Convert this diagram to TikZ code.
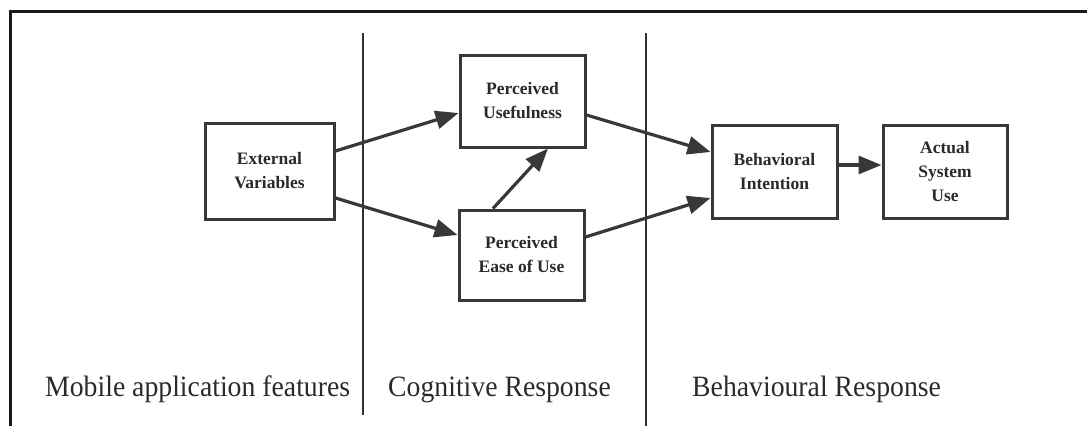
\documentclass[tikz,border=0pt]{standalone}
\usepackage{fontspec}
\setmainfont{Liberation Serif}
\usetikzlibrary{arrows.meta}
\definecolor{frameclr}{HTML}{1A1A1A}
\definecolor{boxclr}{HTML}{383838}
\definecolor{txtclr}{HTML}{2A2A2A}
\tikzset{
  box/.style={draw=boxclr, line width=3pt, fill=white, align=center, inner sep=0pt,
    font=\fontsize{17.5}{24}\selectfont\bfseries, text=txtclr},
  conn/.style={draw=boxclr, line width=3.2pt, -{Triangle[length=23pt,width=18pt]}},
  sep/.style={draw=frameclr!90, line width=2pt},
  lbl/.style={anchor=base west, inner sep=0pt, text=txtclr, font=\fontsize{29.5}{34}\selectfont}
}
\begin{document}
\begin{tikzpicture}[x=1pt,y=-1pt]
\useasboundingbox (0,0) rectangle (1087,426);
% outer frame
\draw[frameclr, line width=3pt] (10.3,426) -- (10.3,11.3) -- (1087,11.3);
% separators
\coordinate (s1t) at (363,33);
\coordinate (s1b) at (363,415);
\coordinate (s2t) at (646,33);
\coordinate (s2b) at (646,426);
\draw[sep] (s1t) -- (s1b);
\draw[sep] (s2t) -- (s2b);
% boxes
\node[box, minimum width=129pt, minimum height=96pt] (ev) at (269.5,171) {External\\Variables};
\node[box, minimum width=125pt, minimum height=92pt] (pu) at (522.5,101) {Perceived\\Usefulness};
\node[box, minimum width=125pt, minimum height=90pt] (peou) at (521.5,255) {Perceived\\Ease of Use};
\node[box, minimum width=125pt, minimum height=93pt] (bi) at (774.5,171.5) {Behavioral\\Intention};
\node[box, minimum width=124pt, minimum height=93pt] (asu) at (945,171.5) {Actual\\System\\Use};
% connectors
\draw[conn] ([yshift=20pt]ev.east) -- ([yshift=-12pt]pu.west);
\draw[conn] ([yshift=-27pt]ev.east) -- ([yshift=20pt]peou.west);
\draw[conn] ([xshift=-28.5pt]peou.north) -- ([xshift=25.5pt]pu.south);
\draw[conn] ([yshift=-14pt]pu.east) -- ([yshift=19.5pt]bi.west);
\draw[conn] ([yshift=18pt]peou.east) -- ([yshift=-26.5pt]bi.west);
\draw[conn] ([yshift=6.5pt]bi.east) -- ([yshift=6.5pt]asu.west);
% section labels
\node[lbl] (l1) at (45,396) {\scalebox{0.94}[1]{Mobile application features}};
\node[lbl] (l2) at (388,396) {\scalebox{0.94}[1]{Cognitive Response}};
\node[lbl] (l3) at (692,396) {\scalebox{0.94}[1]{Behavioural Response}};
\end{tikzpicture}
\end{document}
